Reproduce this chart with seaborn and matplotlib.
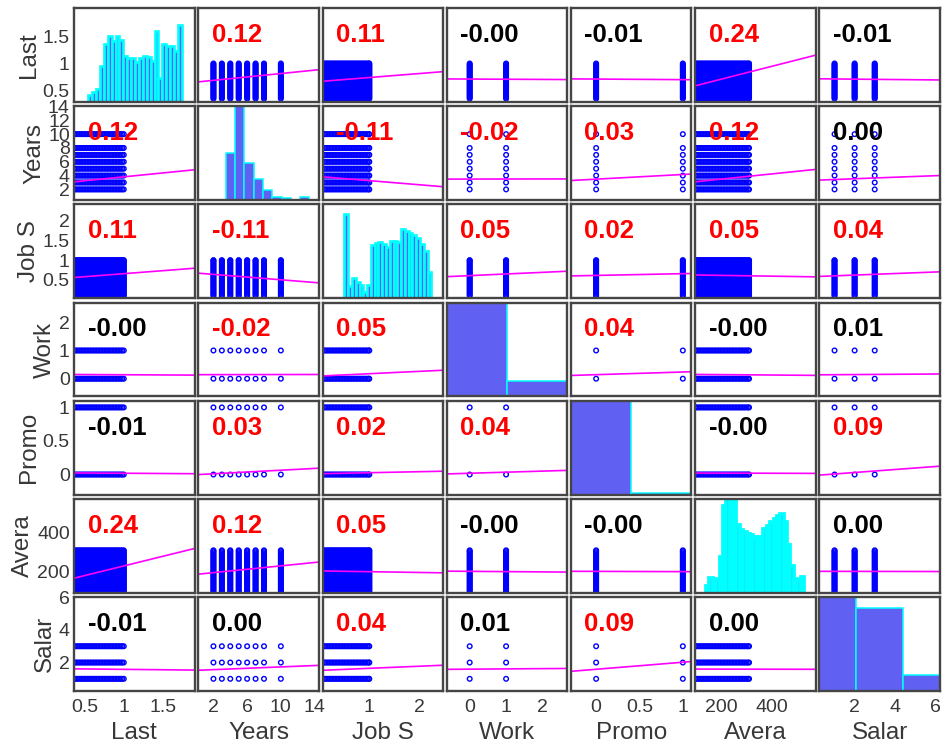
import numpy as np
import matplotlib
matplotlib.use("Agg")
import matplotlib.pyplot as plt
import seaborn as sns

# ---------------- data ----------------
names = ["Last", "Years", "Job S", "Work", "Promo", "Avera", "Salar"]

# distinct observed values of each variable (used for the scatter clouds)
last_levels = [0.36, 0.38, 0.40, 0.42, 0.44, 0.46, 0.48, 0.50, 0.52, 0.54, 0.56,
               0.58, 0.60, 0.62, 0.64, 0.66, 0.68, 0.70, 0.72, 0.74, 0.76, 0.78,
               0.80, 0.82, 0.84, 0.86, 0.88, 0.90, 0.92, 0.94, 0.96, 0.98, 1.00]
years_levels = [2, 3, 4, 5, 6, 7, 8, 10]
jobs_levels = [0.09, 0.12, 0.15, 0.18, 0.21, 0.24, 0.27, 0.30, 0.33, 0.36, 0.39,
               0.42, 0.45, 0.48, 0.51, 0.54, 0.57, 0.60, 0.63, 0.66, 0.69, 0.72,
               0.75, 0.78, 0.81, 0.84, 0.87, 0.90, 0.93, 0.96, 0.99, 1.00]
work_levels = [0, 1]
promo_levels = [0, 1]
avera_levels = [96, 102, 108, 114, 120, 126, 132, 138, 144, 150, 156, 162, 168,
                174, 180, 186, 192, 198, 204, 210, 216, 222, 228, 234, 240, 246,
                252, 258, 264, 270, 276, 282, 288, 294, 300, 306, 310]
salar_levels = [1, 2, 3]
levels = [last_levels, years_levels, jobs_levels, work_levels, promo_levels,
          avera_levels, salar_levels]

# summary statistics used for the least-squares lines
means = [0.7161, 3.498, 0.6128, 0.1446, 0.02127, 201.05, 1.5948]
sds = [0.1712, 1.4601, 0.2486, 0.3517, 0.1443, 49.943, 0.6372]
fit_r = [
    [1.000, 0.132, 0.105, -0.007, -0.009, 0.340, -0.013],
    [0.132, 1.000, -0.101, 0.002, 0.067, 0.128, 0.048],
    [0.105, -0.101, 1.000, 0.059, 0.026, -0.020, 0.050],
    [-0.007, 0.002, 0.059, 1.000, 0.039, -0.010, 0.009],
    [-0.009, 0.067, 0.026, 0.039, 1.000, -0.004, 0.098],
    [0.340, 0.128, -0.020, -0.010, -0.004, 1.000, -0.002],
    [-0.013, 0.048, 0.050, 0.009, 0.098, -0.002, 1.000],
]

# correlation coefficients printed in the panels
r_text = [
    [1.00, 0.12, 0.11, -0.0, -0.01, 0.24, -0.01],
    [0.12, 1.00, -0.11, -0.02, 0.03, 0.12, 0.00],
    [0.11, -0.11, 1.00, 0.05, 0.02, 0.05, 0.04],
    [-0.0, -0.02, 0.05, 1.00, 0.04, -0.0, 0.01],
    [-0.01, 0.03, 0.02, 0.04, 1.00, -0.0, 0.09],
    [0.24, 0.12, 0.05, -0.0, -0.0, 1.00, 0.00],
    [-0.01, 0.00, 0.04, 0.01, 0.09, 0.00, 1.00],
]
significant = [
    [0, 1, 1, 0, 0, 1, 0],
    [1, 0, 1, 1, 1, 1, 0],
    [1, 1, 0, 1, 1, 1, 1],
    [0, 1, 1, 0, 1, 0, 0],
    [0, 1, 1, 1, 0, 0, 1],
    [1, 1, 1, 0, 0, 0, 0],
    [0, 0, 1, 0, 1, 0, 0],
]

# diagonal histograms: counts per bin and the value range they cover
last_hist = [22, 30, 40, 107, 172, 197, 182, 197, 184, 137, 130, 132, 120, 132,
             137, 134, 122, 210, 70, 174, 167, 167, 152, 230]
years_hist = [3244, 6443, 2557, 1473, 718, 188, 162, 0, 214]
jobs_hist = [252, 37, 60, 50, 40, 20, 40, 160, 165, 167, 162, 154, 170, 170,
             167, 207, 200, 195, 189, 180, 162, 140, 77]
work_hist = [12830, 2169]
promo_hist = [14680, 319]
avera_hist = [20, 44, 37, 40, 107, 257, 290, 290, 290, 200, 185, 180, 173, 170,
              165, 160, 165, 188, 198, 210, 218, 228, 232, 210, 140, 80, 40, 38, 47]
salar_hist = [7316, 6446, 1237]
hist_counts = [last_hist, years_hist, jobs_hist, work_hist, promo_hist,
               avera_hist, salar_hist]
hist_range = [(0.36, 1.00), (1.5, 10.5), (0.09, 1.00), (0, 1), (0, 1),
              (96, 310), (0.5, 3.5)]

# tick values
x_ticks = [[0.5, 1, 1.5], [2, 6, 10, 14], [1, 2], [0, 1, 2], [0, 0.5, 1],
           [200, 400], [2, 4, 6]]
y_ticks = [[0.5, 1, 1.5], [2, 4, 6, 8, 10, 12, 14], [0.5, 1, 1.5, 2], [0, 1, 2],
           [0, 0.5, 1], [200, 400], [2, 4, 6]]

# ---------------- layout / style ----------------
xlims = [(0.36, 1.91), (0.2, 14.5), (0.06, 2.48), (-0.63, 2.68), (-0.29, 1.10),
         (96, 575), (0.25, 6.25)]
ylims = [(0.30, 2.01), (0.45, 14.05), (0.03, 2.42), (-0.63, 2.70), (-0.30, 1.10),
         (90, 576), (0.25, 6.02)]
# fraction of panel width spanned by each diagonal histogram
hist_frac = [(0.118, 0.895), (0.229, 0.923), (0.182, 0.903), (0.0, 1.0),
             (0.0, 1.0), (0.09, 0.902), (-0.092, 1.083)]
hist_top = [280, 6443, 280, 12830, 14680, 277, 7316]
hist_lw = [1.9, 1.1, 1.9, 1.1, 1.1, 2.7, 1.1]

BLUE = "#0000FF"
MAGENTA = "#FF00FF"
FACE = "#6060F2"
CYAN = "#00FFFF"
TXT = "#383838"

sns.set_theme(style="white")
plt.rcParams["font.family"] = ["Liberation Sans", "DejaVu Sans"]

fig, axes = plt.subplots(7, 7, figsize=(9.43, 7.53), dpi=100)
fig.subplots_adjust(left=0.0785, right=0.9968, top=0.9894, bottom=0.0823,
                    wspace=0.031, hspace=0.045)

n = len(names)
for i in range(n):
    for j in range(n):
        ax = axes[i, j]
        if i == j:
            counts = list(hist_counts[i])
            lo, hi = hist_range[i]
            edges = [float(e) for e in np.linspace(lo, hi, len(counts) + 1)]
            centers = [(a + b) / 2 for a, b in zip(edges[:-1], edges[1:])]
            ov = ax.inset_axes([0, 0, 1, 1])
            ov.set_zorder(1)
            sns.histplot(x=centers, weights=counts, bins=edges, ax=ov,
                         color=FACE, edgecolor=CYAN, linewidth=hist_lw[i],
                         alpha=1)
            f0, f1 = hist_frac[i]
            span = (hi - lo) / (f1 - f0)
            ov.set_xlim(lo - f0 * span, lo - f0 * span + span)
            ov.set_ylim(0, hist_top[i])
            ov.axis("off")
            ov.patch.set_alpha(0)
        else:
            xv = np.repeat(levels[j], len(levels[i]))
            yv = np.tile(levels[i], len(levels[j]))
            sns.scatterplot(x=xv, y=yv, ax=ax, marker="o", s=11,
                            facecolor="none", edgecolor=BLUE, linewidth=1.0,
                            legend=False)
            slope = fit_r[i][j] * sds[i] / sds[j]
            xl = np.array(xlims[j])
            yl = means[i] + slope * (xl - means[j])
            sns.lineplot(x=xl, y=yl, ax=ax, color=MAGENTA, linewidth=1.2,
                         sort=False, errorbar=None)
            ax.text(0.112, 0.64, f"{r_text[i][j]:.2f}", transform=ax.transAxes,
                    ha="left", va="baseline", fontsize=18.5, fontweight="bold",
                    color="#FF0000" if significant[i][j] else "#000000",
                    zorder=6)
        ax.set_xlim(xlims[j])
        ax.set_ylim(ylims[i])
        ax.set_xlabel("")
        ax.set_ylabel("")
        for sp in ax.spines.values():
            sp.set_color("#454545")
            sp.set_linewidth(1.7)
            sp.set_visible(True)
            sp.set_zorder(3)
        ax.tick_params(length=0, labelsize=14, labelcolor=TXT)
        ax.tick_params(axis="x", pad=6)
        ax.tick_params(axis="y", pad=3)
        if i == n - 1:
            ax.set_xticks(x_ticks[j])
            ax.set_xticklabels([f"{v:g}" for v in x_ticks[j]])
            ax.set_xlabel(names[j], fontsize=17.5, color=TXT, labelpad=4)
        else:
            ax.set_xticks([])
        if j == 0:
            ax.set_yticks(y_ticks[i])
            ax.set_yticklabels([f"{v:g}" for v in y_ticks[i]])
            ax.set_ylabel(names[i], fontsize=17.5, color=TXT, labelpad=2)
        else:
            ax.set_yticks([])

fig.savefig("out.png", dpi=100)
